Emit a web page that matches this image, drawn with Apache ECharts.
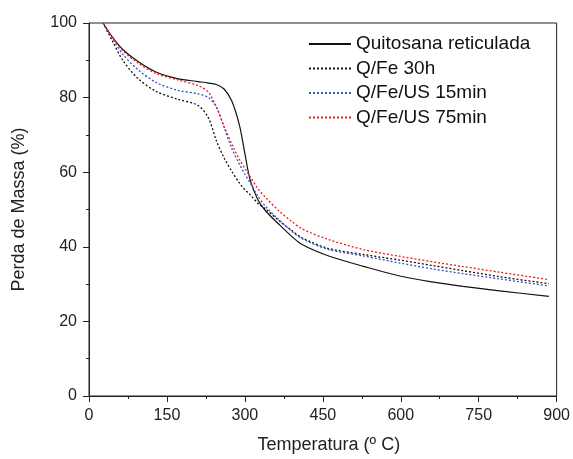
<!DOCTYPE html>
<html>
<head>
<meta charset="utf-8">
<script src="https://cdn.jsdelivr.net/npm/echarts@6/dist/echarts.min.js"></script>
<style>
  html, body { margin: 0; padding: 0; background: #fff; }
  #chart { width: 573px; height: 459px; }
</style>
</head>
<body>
<div id="chart"></div>
<script>
// temperatura (º C), shared by every curve
const temps = [27, 45, 65, 95, 130, 170, 210, 230, 245, 260, 275, 290, 300, 310, 325, 340, 365, 390, 410, 460, 530, 600, 660, 720, 790, 885];

// perda de massa (%)
const quitosana = [100, 96.2, 92.9, 89.6, 86.8, 85.1, 84.3, 83.9, 83.5, 82.3, 79, 72.3, 65, 58, 52.6, 49.6, 46.1, 42.8, 40.6, 37.6, 34.7, 32.1, 30.6, 29.4, 28.2, 26.7];
const qfe30h = [100, 95.2, 90, 85, 81.6, 79.6, 77.9, 74.5, 68.5, 63.8, 60.2, 57, 55.3, 54, 51.7, 50.1, 47.1, 44.4, 42.4, 39.6, 37.9, 36.4, 35, 33.6, 32, 30.1];
const qfeus15 = [100, 96, 91.6, 87.4, 84, 82, 81, 80, 77.5, 72, 66.3, 62, 59.5, 57.2, 53.6, 50.8, 47.3, 44.2, 42.2, 39.3, 37.5, 35.6, 34.1, 32.8, 31.4, 29.5];
const qfeus75 = [100, 96.2, 92.6, 89.2, 86.4, 84.8, 83.2, 81.4, 77.5, 72.3, 67.5, 63.3, 61, 58.8, 55.6, 53.2, 49.7, 46.8, 44.8, 42, 39.2, 37.4, 36, 34.7, 33.2, 31.2];

const seriesNames = ['Quitosana reticulada', 'Q/Fe 30h', 'Q/Fe/US 15min', 'Q/Fe/US 75min'];

function pairs(values) {
  return temps.map((t, i) => [t, values[i]]);
}

const font = 'Liberation Sans, Arial, sans-serif';

function curve(name, values, color, dotted) {
  return {
    name: name,
    type: 'line',
    data: pairs(values),
    smooth: 0.3,
    symbol: 'none',
    showSymbol: false,
    lineStyle: {
      color: color,
      width: dotted ? 1.3 : 1.2,
      type: dotted ? [2, 2] : 'solid',
    },
    itemStyle: { color: color },
  };
}

const chart = echarts.init(document.getElementById('chart'));
chart.setOption({
  backgroundColor: '#fff',
  animation: false,
  textStyle: { fontFamily: font },
  grid: {
    left: 89,
    right: 14,
    top: 23,
    bottom: 58,
    show: true,
    borderColor: '#222',
    borderWidth: 1,
  },
  legend: {
    orient: 'vertical',
    left: 303,
    top: 29,
    itemWidth: 42,
    itemHeight: 14,
    itemGap: 4.5,
    data: seriesNames,
    itemStyle: { opacity: 0 },
    textStyle: { fontFamily: font, fontSize: 19, color: '#111', lineHeight: 20 },
  },
  xAxis: {
    type: 'value',
    min: 0,
    max: 900,
    interval: 150,
    name: 'Temperatura (º C)',
    nameLocation: 'middle',
    nameGap: 40,
    nameTextStyle: { fontFamily: font, fontSize: 18, color: '#222', padding: [0, 0, 0, 12] },
    axisLine: { lineStyle: { color: '#222', width: 1 } },
    axisTick: { length: 6, lineStyle: { color: '#222' } },
    minorTick: { show: true, splitNumber: 2, length: 3, lineStyle: { color: '#222' } },
    splitLine: { show: false },
    axisLabel: { fontFamily: font, fontSize: 16, color: '#222', margin: 12 },
  },
  yAxis: {
    type: 'value',
    min: 0,
    max: 100,
    interval: 20,
    name: 'Perda de Massa (%)',
    nameLocation: 'middle',
    nameGap: 61,
    nameTextStyle: { fontFamily: font, fontSize: 18, color: '#222' },
    axisLine: { show: true, lineStyle: { color: '#222', width: 1 } },
    axisTick: { show: true, length: 6, lineStyle: { color: '#222' } },
    minorTick: { show: true, splitNumber: 2, length: 3, lineStyle: { color: '#222' } },
    splitLine: { show: false },
    axisLabel: { fontFamily: font, fontSize: 16, color: '#222', margin: 12 },
  },
  series: [
    curve(seriesNames[0], quitosana, '#111', false),
    curve(seriesNames[1], qfe30h, '#111', true),
    curve(seriesNames[2], qfeus15, '#3352c8', true),
    curve(seriesNames[3], qfeus75, '#f01c1c', true),
  ],
});
</script>
</body>
</html>
